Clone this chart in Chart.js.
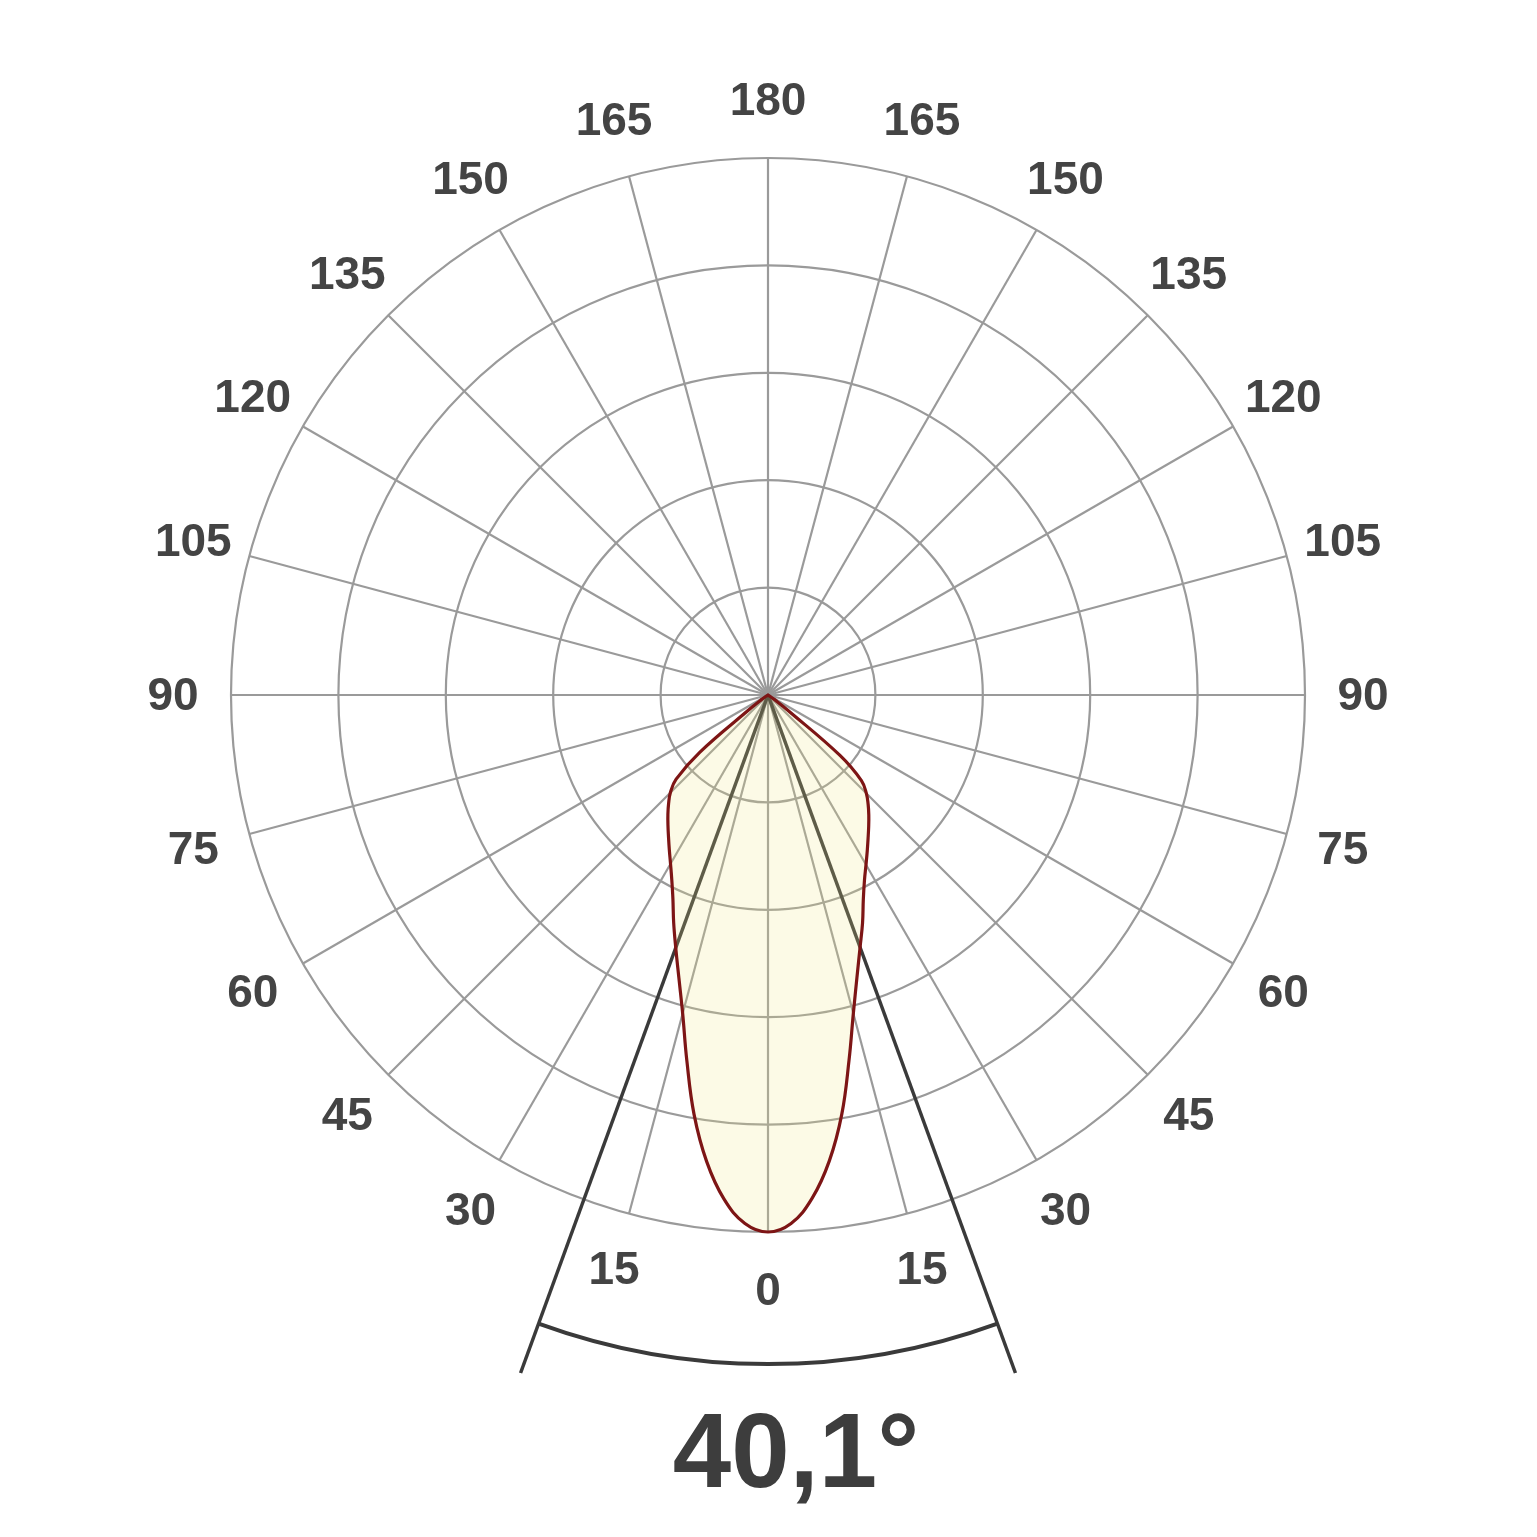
<!DOCTYPE html>
<html>
<head>
<meta charset="utf-8">
<script src="https://cdn.jsdelivr.net/npm/chart.js@4.4.1/dist/chart.umd.min.js"></script>
<style>
  html, body { margin: 0; padding: 0; background: #ffffff; }
  #wrap { width: 1537px; height: 1537px; }
</style>
</head>
<body>
<div id="wrap"><canvas id="polar" width="1537" height="1537"></canvas></div>
<script>
// Gamma angles (deg from nadir), 2.5 deg apart
const gammaAngles = [0, 2.5, 5, 7.5, 10, 12.5, 15, 17.5, 20, 22.5, 25, 27.5, 30, 32.5, 35, 37.5,
    40, 42.5, 45, 47.5, 50, 52.5, 55, 57.5, 60, 62.5, 65, 67.5, 70, 72.5, 75, 77.5, 80, 82.5, 85, 87.5,
    90, 92.5, 95, 97.5, 100, 102.5, 105, 107.5, 110, 112.5, 115, 117.5, 120, 122.5, 125, 127.5,
    130, 132.5, 135, 137.5, 140, 142.5, 145, 147.5, 150, 152.5, 155, 157.5, 160, 162.5, 165, 167.5,
    170, 172.5, 175, 177.5, 180];
// Relative intensity (%) on the left and right half of the plane
const leftIntensity = [100, 98.5, 94.2, 87.6, 79.3, 69.8, 61.4, 55.2, 50.2, 45.9, 41.9, 38.8, 36.3, 34.2,
    32.3, 30.6, 29.0, 27.4, 25.7, 23.2, 16.6, 4, 1.5, 0.5, 0, 0, 0, 0, 0, 0, 0, 0, 0, 0, 0, 0,
    0, 0, 0, 0, 0, 0, 0, 0, 0, 0, 0, 0, 0, 0, 0, 0, 0, 0, 0, 0, 0, 0, 0, 0, 0, 0, 0, 0, 0, 0, 0, 0,
    0, 0, 0, 0, 0];
const rightIntensity = [100, 98.5, 94.1, 87.5, 79.2, 69.7, 61.4, 55.1, 50.1, 46.0, 42.0, 38.9, 36.5, 34.4,
    32.5, 30.8, 29.2, 27.6, 25.9, 23.6, 17.5, 4.5, 1.5, 0.5, 0, 0, 0, 0, 0, 0, 0, 0, 0, 0, 0, 0,
    0, 0, 0, 0, 0, 0, 0, 0, 0, 0, 0, 0, 0, 0, 0, 0, 0, 0, 0, 0, 0, 0, 0, 0, 0, 0, 0, 0, 0, 0, 0, 0,
    0, 0, 0, 0, 0];
const ringTicks = [0, 20, 40, 60, 80, 100];
const labelStep = 15;   // degrees between spokes / labels
const beamAngle = 40.1; // full beam angle (deg)
const beamLabel = '40,1°';

// Go round the circle: left half 0 -> 180, then right half back down
const angleLabels = [];
const intensity = [];
for (let i = 0; i < gammaAngles.length; i++) {
    angleLabels.push(gammaAngles[i]);
    intensity.push(leftIntensity[i]);
}
for (let i = gammaAngles.length - 2; i >= 1; i--) {
    angleLabels.push(gammaAngles[i]);
    intensity.push(rightIntensity[i]);
}
const degPerIndex = 360 / angleLabels.length;
const FONT = '"Liberation Sans", Arial, Helvetica, sans-serif';
const isMajor = (a) => a % labelStep === 0;

// Beam angle lines + arc (under the curve), angle labels and beam text on top
const beamPlugin = {
    id: 'beam',
    beforeDatasetsDraw(chart) {
        const scale = chart.scales.r;
        const ctx = chart.ctx;
        const idx = (beamAngle / 2) / degPerIndex;
        const lineR = scale.getDistanceFromCenterForValue(134.4);
        const arcR = scale.getDistanceFromCenterForValue(124.6);
        ctx.save();
        ctx.strokeStyle = '#3a3a3a';
        ctx.lineWidth = 3.5;
        [idx, -idx].forEach(i => {
            const p = scale.getPointPosition(i, lineR);
            ctx.beginPath();
            ctx.moveTo(scale.xCenter, scale.yCenter);
            ctx.lineTo(p.x, p.y);
            ctx.stroke();
        });
        const a1 = scale.getIndexAngle(-idx) - Math.PI / 2;
        const a2 = scale.getIndexAngle(idx) - Math.PI / 2;
        ctx.lineWidth = 4;
        ctx.beginPath();
        ctx.arc(scale.xCenter, scale.yCenter, arcR, a1, a2);
        ctx.stroke();
        ctx.restore();
    },
    afterDraw(chart) {
        const scale = chart.scales.r;
        const ctx = chart.ctx;
        ctx.save();
        ctx.fillStyle = '#444444';
        ctx.textAlign = 'center';
        ctx.textBaseline = 'middle';
        ctx.font = 'bold 46px ' + FONT;
        const labelR = scale.getDistanceFromCenterForValue(110.8);
        angleLabels.forEach((a, i) => {
            if (!isMajor(a)) return;
            const p = scale.getPointPosition(i, labelR);
            ctx.fillText(String(a), p.x, p.y + 2);
        });
        ctx.fillStyle = '#3d3d3d';
        ctx.font = 'bold 105px ' + FONT;
        ctx.textBaseline = 'alphabetic';
        const arcR = scale.getDistanceFromCenterForValue(124.6);
        ctx.fillText(beamLabel, scale.xCenter + 28, scale.yCenter + arcR + 123);
        ctx.restore();
    }
};

new Chart(document.getElementById('polar'), {
    type: 'radar',
    data: {
        labels: angleLabels,
        datasets: [{
            data: intensity,
            borderColor: '#7d1515',
            borderWidth: 3.2,
            backgroundColor: 'rgba(240, 230, 130, 0.2)',
            fill: true,
            tension: 0.4,
            pointRadius: 0
        }]
    },
    options: {
        responsive: false,
        animation: false,
        layout: { padding: { left: 231, right: 232, top: 158, bottom: 305 } },
        plugins: { legend: { display: false }, tooltip: { enabled: false } },
        scales: {
            r: {
                min: ringTicks[0],
                max: ringTicks[ringTicks.length - 1],
                startAngle: 180,
                ticks: { display: false, stepSize: ringTicks[1] - ringTicks[0] },
                pointLabels: { display: false },
                grid: { circular: true, color: '#9a9a9a', lineWidth: 2.2 },
                angleLines: {
                    color: (c) => (isMajor(angleLabels[c.index]) ? '#9a9a9a' : 'rgba(0,0,0,0)'),
                    lineWidth: (c) => (isMajor(angleLabels[c.index]) ? 2.2 : 0)
                }
            }
        }
    },
    plugins: [beamPlugin]
});
</script>
</body>
</html>
